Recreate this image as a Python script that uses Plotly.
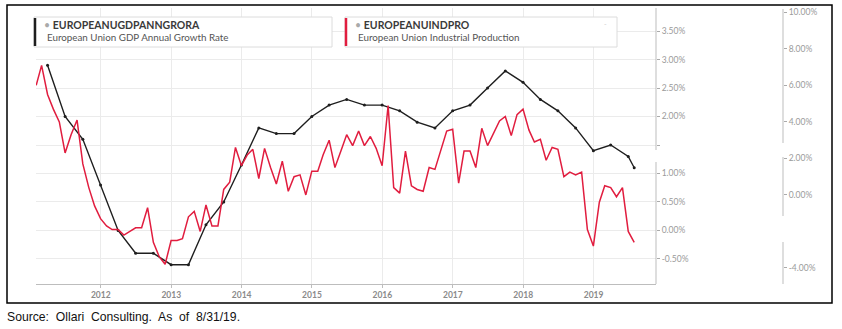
import calendar
import plotly.graph_objects as go

# ---- data -------------------------------------------------------------
gdp_dates = [
    "2011-03-31", "2011-06-30", "2011-09-30", "2011-12-31",
    "2012-03-31", "2012-06-30", "2012-09-30", "2012-12-31",
    "2013-03-31", "2013-06-30", "2013-09-30", "2013-12-31",
    "2014-03-31", "2014-06-30", "2014-09-30", "2014-12-31",
    "2015-03-31", "2015-06-30", "2015-09-30", "2015-12-31",
    "2016-03-31", "2016-06-30", "2016-09-30", "2016-12-31",
    "2017-03-31", "2017-06-30", "2017-09-30", "2017-12-31",
    "2018-03-31", "2018-06-30", "2018-09-30", "2018-12-31",
    "2019-03-31", "2019-06-30", "2019-07-31",
]
gdp_growth = [
    2.9, 2.0, 1.6, 0.8,
    0.0, -0.4, -0.4, -0.6,
    -0.6, 0.1, 0.5, 1.15,
    1.8, 1.7, 1.7, 2.0,
    2.2, 2.3, 2.2, 2.2,
    2.1, 1.9, 1.8, 2.1,
    2.2, 2.5, 2.8, 2.6,
    2.3, 2.1, 1.8, 1.4,
    1.5, 1.3, 1.1,
]

# monthly industrial production, Jan 2011 .. Jul 2019
ip_start_year, ip_start_month = 2011, 1
ind_production = [
    6.0, 7.1, 5.5, 4.7, 4.0, 2.3, 3.3, 4.1, 1.7, 0.4, -0.6, -1.3,      # 2011
    -1.7, -1.9, -1.9, -2.2, -2.0, -1.8, -1.8, -0.7, -2.6, -3.4, -3.8, -2.5,  # 2012
    -2.5, -2.4, -1.2, -0.9, -2.0, -0.55, -1.7, -1.7, 0.3, 0.7, 2.6, 1.6,  # 2013
    2.2, 2.5, 0.9, 2.55, 1.5, 0.6, 1.85, 0.2, 1.0, 1.1, 0.0, 1.3,      # 2014
    1.3, 2.2, 3.0, 1.5, 2.4, 3.3, 2.7, 3.5, 2.7, 3.2, 2.55, 1.6,       # 2015
    4.9, 0.4, 0.1, 2.4, 0.5, 0.3, 0.2, 1.5, 1.4, 2.45, 3.5, 3.6,       # 2016
    0.65, 2.4, 2.4, 1.5, 3.65, 2.7, 3.35, 4.05, 4.3, 3.25, 4.4, 4.7,   # 2017
    3.55, 2.9, 3.05, 1.9, 2.6, 2.5, 1.0, 1.25, 1.1, 1.25, -1.9, -2.8,  # 2018
    -0.4, 0.5, 0.4, -0.1, 0.4, -2.0, -2.6,                             # 2019
]

year_ticks = ["2012", "2013", "2014", "2015", "2016", "2017", "2018", "2019"]
gdp_tickvals = [-0.5, 0.0, 0.5, 1.0, 1.5, 2.0, 2.5, 3.0, 3.5]
gdp_ticktext = ["-0.50%", "0.00%", "0.50%", "1.00%", "", "2.00%", "2.50%", "3.00%", "3.50%"]
ip_tickvals = [-4, 0, 2, 4, 6, 8, 10]
ip_ticktext = ["-4.00%", "0.00%", "2.00%", "4.00%", "6.00%", "8.00%", "10.00%"]

series_names = [("EUROPEANUGDPANNGRORA", "European Union GDP Annual Growth Rate"),
                ("EUROPEANUINDPRO", "European Union Industrial Production")]
source_note = "Source:\u00a0 Ollari\u00a0 Consulting.\u00a0 As\u00a0 of\u00a0 8/31/19."


def month_ends(year, month, n):
    out = []
    for _ in range(n):
        last = calendar.monthrange(year, month)[1]
        out.append(f"{year:04d}-{month:02d}-{last:02d}")
        month += 1
        if month > 12:
            month, year = 1, year + 1
    return out


ip_dates = month_ends(ip_start_year, ip_start_month, len(ind_production))

# ---- geometry -----------------------------------------------------------
W, H = 842, 329
ML, MR, MT, MB = 36, 10, 8, 45
PW, PH = W - ML - MR, H - MT - MB


def fx(px):
    return (px - ML) / PW


def fy(py):
    return (H - MB - py) / PH


RED = "#e11d3f"
BLACK = "#1e1e1e"
GRID = "#ebebeb"
AXIS = "#bdbdbd"

fig = go.Figure()
fig.add_trace(go.Scatter(
    x=gdp_dates, y=gdp_growth, mode="lines+markers",
    line=dict(color=BLACK, width=1.4), marker=dict(size=3, color=BLACK),
    yaxis="y", hoverinfo="skip", showlegend=False))
fig.add_trace(go.Scatter(
    x=ip_dates, y=ind_production, mode="lines",
    line=dict(color=RED, width=1.5),
    yaxis="y2", hoverinfo="skip", showlegend=False))

shapes = []
# outer frame
shapes.append(dict(type="rect", xref="paper", yref="paper",
                   x0=fx(7), x1=fx(832), y0=fy(5), y1=fy(303),
                   line=dict(color="black", width=1.5), fillcolor="rgba(0,0,0,0)"))
# axis spines with gaps
for y0, y1 in [(8, 150), (162, 284)]:
    shapes.append(dict(type="line", xref="paper", yref="paper",
                       x0=fx(656), x1=fx(656), y0=fy(y0), y1=fy(y1),
                       line=dict(color=AXIS, width=1)))
for y0, y1 in [(9, 143), (157, 216), (242, 284)]:
    shapes.append(dict(type="line", xref="paper", yref="paper",
                       x0=fx(783), x1=fx(783), y0=fy(y0), y1=fy(y1),
                       line=dict(color=AXIS, width=1)))

annotations = []
boxes = [(34, 332, BLACK), (345, 617, RED)]
for (bx0, bx1, col), (code, label) in zip(boxes, series_names):
    shapes.append(dict(type="rect", xref="paper", yref="paper",
                       x0=fx(bx0), x1=fx(bx1), y0=fy(17), y1=fy(47),
                       line=dict(color="#dcdcdc", width=1), fillcolor="white"))
    shapes.append(dict(type="line", xref="paper", yref="paper",
                       x0=fx(bx0 + 1), x1=fx(bx0 + 1), y0=fy(18), y1=fy(46),
                       line=dict(color=col, width=2.5)))
    annotations.append(dict(
        xref="paper", yref="paper", x=fx(bx0 + 8), y=fy(25.5),
        xanchor="left", yanchor="middle", showarrow=False,
        text=f"<span style='color:#aaa'>•</span> <b>{code}</b>",
        font=dict(family="Lato", size=10.5, color="#3a3a3a")))
    annotations.append(dict(
        xref="paper", yref="paper", x=fx(bx0 + 11), y=fy(37),
        xanchor="left", yanchor="middle", showarrow=False,
        text=label, font=dict(family="Lato", size=9.8, color="#555")))

annotations.append(dict(
    xref="paper", yref="paper", x=fx(605), y=fy(24),
    xanchor="center", yanchor="middle", showarrow=False,
    text="-", font=dict(family="Lato", size=7, color="#cfcfcf")))
annotations.append(dict(
    xref="paper", yref="paper", x=fx(5), y=fy(317),
    xanchor="left", yanchor="middle", showarrow=False,
    text=source_note, font=dict(family="Liberation Sans, Arial", size=12.2, color="#111")))

fig.update_layout(
    width=W, height=H,
    margin=dict(l=ML, r=MR, t=MT, b=MB, pad=0),
    paper_bgcolor="white", plot_bgcolor="white",
    font=dict(family="Lato"),
    xaxis=dict(
        type="date", domain=[0, fx(656)],
        range=["2011-01-30", "2019-11-21"],
        tickvals=[f"{y}-01-01" for y in year_ticks],
        ticktext=[f"<b>{y}</b>" for y in year_ticks],
        tickfont=dict(family="Lato", size=8.5, color="#8a8a8a"),
        showgrid=True, gridcolor=GRID, gridwidth=1,
        showline=True, linecolor=AXIS, linewidth=1,
        ticks="outside", ticklen=3, tickcolor=AXIS,
        zeroline=False, fixedrange=True),
    yaxis=dict(
        side="right", anchor="x",
        range=[-0.939, 3.904],
        tickvals=gdp_tickvals, ticktext=gdp_ticktext,
        tickfont=dict(family="Lato", size=8.5, color="#9a9a9a"),
        showgrid=True, gridcolor=GRID, gridwidth=1,
        showline=False, zeroline=False,
        ticks="outside", ticklen=3, tickcolor="#aaa"),
    yaxis2=dict(
        overlaying="y", side="right", anchor="free", position=fx(783),
        range=[-4.88, 10.24],
        tickvals=ip_tickvals, ticktext=ip_ticktext,
        tickfont=dict(family="Lato", size=8.5, color="#9a9a9a"),
        showgrid=False, showline=False, zeroline=False,
        ticks="outside", ticklen=3, tickcolor="#aaa"),
    shapes=shapes,
    annotations=annotations,
)

fig.write_html("out.html")
